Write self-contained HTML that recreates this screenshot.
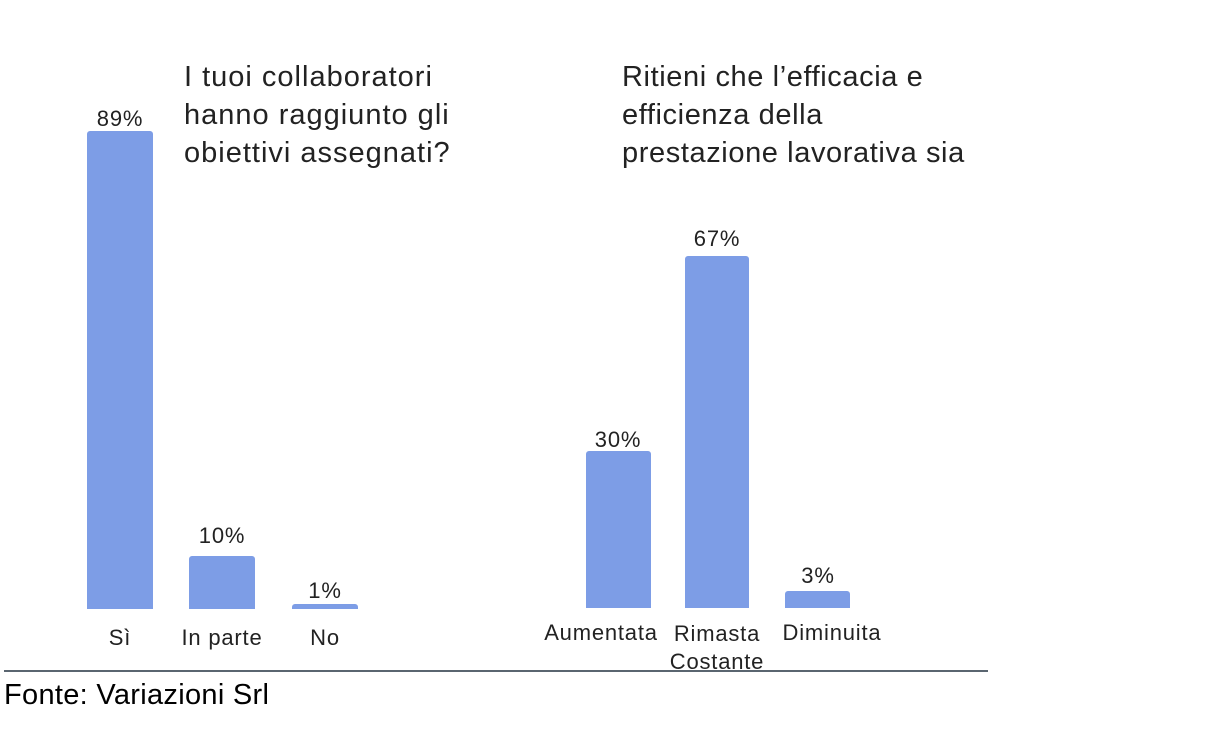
<!DOCTYPE html>
<html><head><style>
body{margin:0;width:1210px;height:740px;background:#fff;position:relative;overflow:hidden;font-family:"Liberation Sans",sans-serif;color:#222}
.b{position:absolute;background:#7d9de6;border-radius:3px 3px 0 0}
.t{position:absolute;font-size:22px;letter-spacing:0.8px;text-align:center;width:160px;color:#222}
.h{position:absolute;font-size:29px;letter-spacing:1px;line-height:38px;color:#222;white-space:nowrap}
</style></head><body>
<div class="h" style="left:184px;top:58px">I tuoi collaboratori<br>hanno raggiunto gli<br>obiettivi assegnati?</div>
<div class="h" style="left:622px;top:58px;letter-spacing:0.6px">Ritieni che l’efficacia e<br>efficienza della<br>prestazione lavorativa sia</div>

<div class="b" style="left:87px;top:131px;width:66px;height:478px"></div>
<div class="b" style="left:189px;top:556px;width:66px;height:53px"></div>
<div class="b" style="left:292px;top:604px;width:66px;height:5px"></div>
<div class="t" style="left:40px;top:106px">89%</div>
<div class="t" style="left:142px;top:523px">10%</div>
<div class="t" style="left:245px;top:578px">1%</div>
<div class="t" style="left:40px;top:625px">Sì</div>
<div class="t" style="left:142px;top:625px">In parte</div>
<div class="t" style="left:245px;top:625px">No</div>

<div class="b" style="left:586px;top:451px;width:65px;height:157px"></div>
<div class="b" style="left:685px;top:256px;width:64px;height:352px"></div>
<div class="b" style="left:785px;top:591px;width:65px;height:17px"></div>
<div class="t" style="left:538px;top:427px">30%</div>
<div class="t" style="left:637px;top:226px">67%</div>
<div class="t" style="left:738px;top:563px">3%</div>
<div class="t" style="left:521px;top:620px">Aumentata</div>
<div class="t" style="left:637px;top:620px;line-height:28px">Rimasta<br>Costante</div>
<div class="t" style="left:752px;top:620px">Diminuita</div>

<div style="position:absolute;left:4px;top:670px;width:984px;height:2px;background:#5a6570"></div>
<div style="position:absolute;left:4px;top:679px;font-size:29px;letter-spacing:0.3px;color:#000">Fonte: Variazioni Srl</div>
</body></html>
